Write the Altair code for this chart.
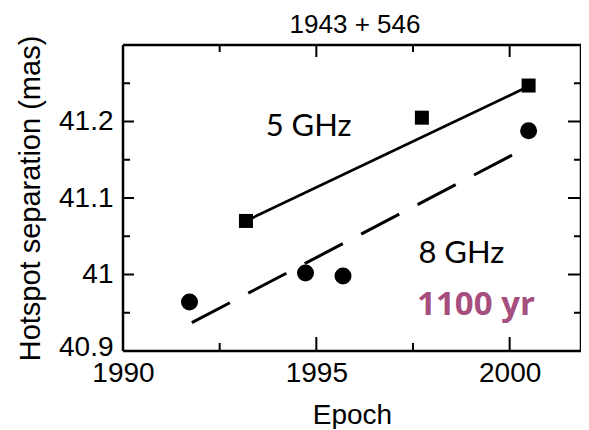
import altair as alt
import pandas as pd

# ---- data ----
title_text = ["1943 + 546"]

epoch_5 = [1993.18, 1997.73, 2000.49]
sep_5 = [41.070, 41.205, 41.247]
epoch_8 = [1991.72, 1994.72, 1995.69, 2000.49]
sep_8 = [40.964, 41.002, 40.998, 41.188]

fit5_x = [1993.18, 2000.45]
fit5_y = [41.070, 41.245]
fit8_x = [1991.78, 2000.06]
fit8_y = [40.937, 41.156]

label_text = ["5 GHz", "8 GHz"]
label_x = [1994.8, 1998.75]
label_y = [41.181, 41.015]

period_text = ["1100 yr"]
period_x = [1999.13]
period_y = [40.947]

x_major = [1995, 2000]
x_minor = [1992.5, 1997.5]
y_major = [41.0, 41.1, 41.2]
y_minor = [40.95, 41.05, 41.15, 41.25]
x_labels = [1990, 1995, 2000]
y_labels = [40.9, 41.0, 41.1, 41.2]

W, H = 458, 306
FONT = "Liberation Sans"

xs = alt.Scale(domain=[1990, 2001.845], nice=False, zero=False)
ys = alt.Scale(domain=[40.9, 41.3], nice=False, zero=False)

pts5 = pd.DataFrame({"epoch": epoch_5, "sep": sep_5})
pts8 = pd.DataFrame({"epoch": epoch_8, "sep": sep_8})
f5 = pd.DataFrame({"epoch": fit5_x, "sep": fit5_y})
f8 = pd.DataFrame({"epoch": fit8_x, "sep": fit8_y})
labs = pd.DataFrame({"t": label_text, "epoch": label_x, "sep": label_y})
per = pd.DataFrame({"t": period_text, "epoch": period_x, "sep": period_y})

x_axis = alt.Axis(values=x_labels, format="d", ticks=False, domain=False,
                  grid=False, labelFont=FONT, labelFontSize=28,
                  labelColor="black", labelPadding=8, labelFlush=False,
                  title="Epoch", titleFont=FONT, titleFontSize=28,
                  titleFontWeight="normal", titleColor="black",
                  titlePadding=14)
y_axis = alt.Axis(values=y_labels, format="~g", ticks=False, domain=False,
                  grid=False, labelFont=FONT, labelFontSize=28,
                  labelColor="black", labelPadding=10, labelFlush=False,
                  labelOffset={"condition": {"test": "datum.value < 40.95",
                                             "value": -4}, "value": 0},
                  title="Hotspot separation (mas)", titleFont=FONT,
                  titleFontSize=29, titleFontWeight="normal",
                  titleColor="black", titlePadding=13)

X = alt.X("epoch:Q", scale=xs, axis=x_axis)
Y = alt.Y("sep:Q", scale=ys, axis=y_axis)

line5 = alt.Chart(f5).mark_line(color="black", strokeWidth=2.7).encode(x=X, y=Y)
line8 = alt.Chart(f8).mark_line(color="black", strokeWidth=3,
                                strokeCap="butt",
                                strokeDash=[43, 20.7]).encode(x=X, y=Y)
sq = alt.Chart(pts5).mark_point(shape="square", filled=True, color="black",
                                opacity=1, size=196).encode(x=X, y=Y)
ci = alt.Chart(pts8).mark_point(shape="circle", filled=True, color="black",
                                opacity=1, size=289).encode(x=X, y=Y)
txt = alt.Chart(labs).mark_text(font="Lato", fontSize=31, color="black",
                                baseline="alphabetic", align="center").encode(
    x=X, y=Y, text="t:N")
ptxt = alt.Chart(per).mark_text(font="Open Sans", fontSize=33,
                                fontWeight="bold", color="#a64f7f",
                                baseline="alphabetic",
                                align="center").encode(x=X, y=Y, text="t:N")


def xticks(vals, y0, y1):
    df = pd.DataFrame({"epoch": vals})
    return alt.Chart(df).mark_rule(color="black", strokeWidth=2).encode(
        x=X, y=alt.value(y0), y2=alt.value(y1))


def yticks(vals, x0, x1):
    df = pd.DataFrame({"sep": vals})
    return alt.Chart(df).mark_rule(color="black", strokeWidth=2).encode(
        y=Y, x=alt.value(x0), x2=alt.value(x1))


ticks = [
    xticks(x_major, H - 14, H), xticks(x_minor, H - 8, H),
    xticks(x_major, 0, 12), xticks(x_minor, 0, 7),
    yticks(y_major, 0, 11), yticks(y_minor, 0, 7),
    yticks(y_major, W - 13, W), yticks(y_minor, W - 7, W),
]

one = pd.DataFrame({"k": [0]})
frame = [
    alt.Chart(one).mark_rule(color="black", strokeWidth=2.5).encode(
        x=alt.value(0), x2=alt.value(W), y=alt.value(0)),
    alt.Chart(one).mark_rule(color="black", strokeWidth=2.5).encode(
        x=alt.value(0), x2=alt.value(W), y=alt.value(H)),
    alt.Chart(one).mark_rule(color="black", strokeWidth=2.5).encode(
        y=alt.value(0), y2=alt.value(H), x=alt.value(0)),
    alt.Chart(one).mark_rule(color="black", strokeWidth=2.5).encode(
        y=alt.value(0), y2=alt.value(H), x=alt.value(W)),
]

title = alt.Chart(pd.DataFrame({"t": title_text})).mark_text(
    font=FONT, fontSize=26, color="black", baseline="alphabetic",
    align="center").encode(x=alt.value(232), y=alt.value(-12), text="t:N")

chart = alt.layer(line5, line8, sq, ci, txt, ptxt, *ticks, *frame,
                  title).properties(
    width=W, height=H,
    autosize=alt.AutoSizeParams(type="none"),
    padding={"left": 115, "top": 37, "right": 0, "bottom": 78},
).configure(background="white").configure_view(stroke=None)

chart.save("out.html", embed_options={"renderer": "svg", "actions": False})
